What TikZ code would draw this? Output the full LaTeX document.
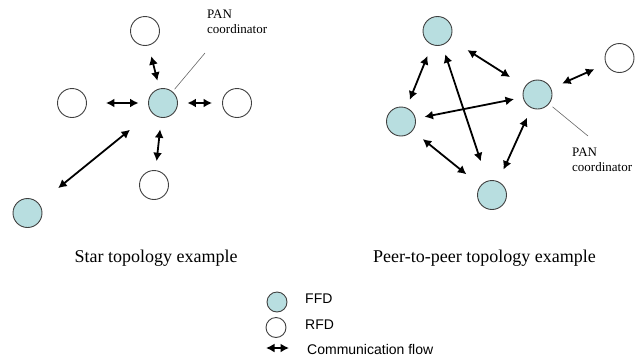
\documentclass[tikz,border=0pt]{standalone}
\usepackage{fontspec}
\setmainfont{Liberation Serif}
\newfontfamily\legendfont{Liberation Sans}
\usepackage{tikz}
\usetikzlibrary{arrows.meta}

\definecolor{ffdcol}{RGB}{184,222,224}

\begin{document}
\begin{tikzpicture}[x=1pt,y=-1pt,
        dev/.style={circle, draw=black!75, line width=0.9pt, minimum size=29pt, inner sep=0pt},
        ffd/.style={dev, fill=ffdcol},
        rfd/.style={dev, fill=white},
        comm/.style={{Latex[length=8.5pt,width=9pt]}-{Latex[length=8.5pt,width=9pt]}, line width=1.8pt},
        leader/.style={draw=black!60, line width=0.6pt},
        pan/.style={anchor=north west, align=left, inner sep=0pt, font=\fontsize{13}{15}\selectfont}]
        \useasboundingbox (0,0) rectangle (642,362);
        % star
        \node[ffd] (c) at (163,103) {};
        \node[rfd] (t) at (145,31) {};
        \node[rfd] (l) at (72,103) {};
        \node[rfd] (r) at (237,103) {};
        \node[rfd] (b) at (154,185) {};
        \node[ffd] (d) at (27.5,213) {};
        \draw[comm, shorten <=11pt, shorten >=8pt] (t) -- (c);
        \draw[comm, shorten <=19pt, shorten >=9.5pt] (l) -- (c);
        \draw[comm, shorten <=9.5pt, shorten >=10pt] (c) -- (r);
        \draw[comm, shorten <=11.5pt, shorten >=9pt] (c) -- (b);
        \draw[comm, shorten <=27.5pt, shorten >=24.5pt] (c) -- (d);
        \node[pan] (panlabA) at (207,10) {PAN\\coordinator};
        \coordinate (panA) at (205,53);
        \draw[leader, shorten >=3pt] (panA) -- (c);
        \node[anchor=base, font=\fontsize{18}{20}\selectfont] (startitle) at (156,262) {Star topology example};
        % peer-to-peer
        \node[ffd] (p1) at (437.5,31) {};
        \node[ffd] (p2) at (537.5,94.5) {};
        \node[ffd] (p3) at (401,121.5) {};
        \node[ffd] (p4) at (492,195) {};
        \node[rfd] (q) at (619.5,58) {};
        \draw[comm, shorten <=20.5pt, shorten >=17.5pt] (p1) -- (p2);
        \draw[comm, shorten <=12pt, shorten >=12.5pt] (p2) -- (q);
        \draw[comm, shorten <=12pt, shorten >=8.5pt] (p1) -- (p3);
        \draw[comm, shorten <=9.5pt, shorten >=20.5pt] (p1) -- (p4);
        \draw[comm, shorten <=9pt, shorten >=9pt] (p3) -- (p2);
        \draw[comm, shorten <=13pt, shorten >=18pt] (p3) -- (p4);
        \draw[comm, shorten <=13pt, shorten >=10.5pt] (p4) -- (p2);
        \node[pan] (panlabB) at (572,148) {PAN\\coordinator};
        \coordinate (panB) at (588,136);
        \draw[leader, shorten >=4.5pt] (panB) -- (p2);
        \node[anchor=base, font=\fontsize{18}{20}\selectfont] (peertitle) at (484.5,262) {Peer-to-peer topology example};
        % legend
        \node[ffd, minimum size=20pt] (legffd) at (277,302) {};
        \node[rfd, minimum size=20pt] (legrfd) at (276,327.5) {};
        \node[anchor=west, inner sep=0pt, font=\legendfont\fontsize{14}{16}\selectfont] (txtffd) at (305,299) {FFD};
        \node[anchor=west, inner sep=0pt, font=\legendfont\fontsize{14}{16}\selectfont] (txtrfd) at (305,325) {RFD};
        \coordinate (la) at (266,348);
        \coordinate (lb) at (289,348);
        \draw[comm] (la) -- (lb);
        \node[anchor=west, inner sep=0pt, font=\legendfont\fontsize{14}{16}\selectfont] (txtflow) at (307,349) {Communication flow};
\end{tikzpicture}
\end{document}
